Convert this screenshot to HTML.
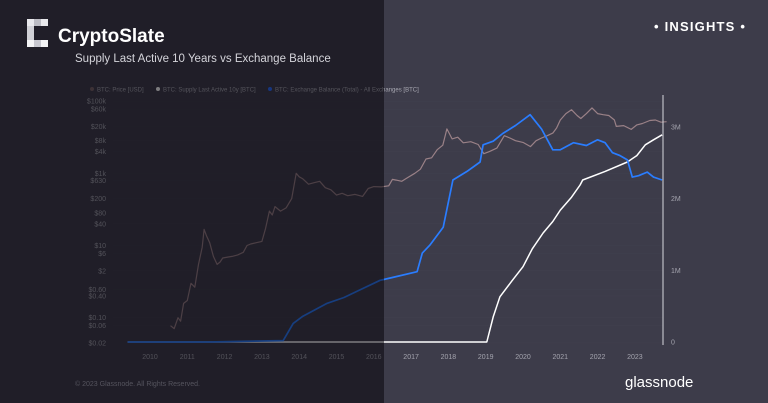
<!DOCTYPE html>
<html><head><meta charset="utf-8">
<style>
html,body{margin:0;padding:0;background:#3d3c4a;}
#wrap{position:relative;width:768px;height:403px;overflow:hidden;font-family:"Liberation Sans",sans-serif;}
svg{position:absolute;left:0;top:0;}
</style></head>
<body>
<div id="wrap">
<svg id="chart" width="768" height="403" viewBox="0 0 768 403">
  <rect x="0" y="0" width="768" height="403" fill="#3d3c4a"/>
  <g id="grid"></g>
  <g id="series"></g>
  <line x1="663" y1="95" x2="663" y2="345" stroke="#d8d8de" stroke-width="1"/>
  <g id="axes" font-size="7" fill="#a4a4ae"></g>
  <g id="legend" font-size="6" fill="#a8a8b2">
    <circle cx="92" cy="89" r="2" fill="#7a6468"/>
    <text x="97" y="91.5">BTC: Price [USD]</text>
    <circle cx="158" cy="89" r="2" fill="#ffffff"/>
    <text x="163" y="91.5">BTC: Supply Last Active 10y [BTC]</text>
    <circle cx="270" cy="89" r="2" fill="#2a6dff"/>
    <text x="275" y="91.5">BTC: Exchange Balance (Total) - All Exchanges [BTC]</text>
  </g>
  <rect x="0" y="0" width="384" height="403" fill="#05040a" opacity="0.52"/>
  <g>
    <rect x="27" y="19" width="21" height="7" fill="#e8e8ec"/>
    <rect x="27" y="26" width="7" height="14" fill="#d0d0d6"/>
    <rect x="27" y="40" width="21" height="7" fill="#f4f4f6"/>
    <rect x="34" y="19" width="7" height="7" fill="#bcbcc4"/>
    <rect x="34" y="40" width="7" height="7" fill="#c8c8d0"/>
  </g>
  <text x="58" y="42" font-size="19" font-weight="bold" fill="#ffffff">CryptoSlate</text>
  <text x="75" y="62" font-size="11.5" fill="#d4d4da">Supply Last Active 10 Years vs Exchange Balance</text>
  <text x="654" y="31" font-size="13" font-weight="bold" fill="#ffffff" letter-spacing="1.2">• INSIGHTS •</text>
  <text x="75" y="386" font-size="7" fill="#55545e">© 2023 Glassnode. All Rights Reserved.</text>
  <text x="625" y="387" font-size="15" fill="#ffffff">glassnode</text>
</svg>
</div>
<script>
const yearTicks = [2010,2011,2012,2013,2014,2015,2016,2017,2018,2019,2020,2021,2022,2023];
const priceTickValues = [100000,60000,20000,8000,4000,1000,630,200,80,40,10,6,2,0.6,0.4,0.1,0.06,0.02];
const priceTickLabels = ["$100k","$60k","$20k","$8k","$4k","$1k","$630","$200","$80","$40","$10","$6","$2","$0.60","$0.40","$0.10","$0.06","$0.02"];
const rightTickValues = [0,1,2,3];
const rightTickLabels = ["0","1M","2M","3M"];

const priceDates = [2010.55,2010.65,2010.75,2010.82,2010.9,2011.0,2011.1,2011.2,2011.3,2011.4,2011.45,2011.52,2011.6,2011.7,2011.8,2011.88,2011.95,2012.1,2012.2,2012.35,2012.5,2012.6,2012.7,2012.85,2013.0,2013.1,2013.2,2013.28,2013.35,2013.5,2013.65,2013.8,2013.92,2014.0,2014.1,2014.25,2014.4,2014.55,2014.7,2014.85,2015.0,2015.15,2015.3,2015.5,2015.7,2015.85,2016.0,2016.2,2016.4,2016.5,2016.6,2016.75,2016.9,2017.1,2017.25,2017.4,2017.55,2017.7,2017.85,2017.96,2018.1,2018.25,2018.4,2018.6,2018.8,2018.95,2019.1,2019.3,2019.5,2019.65,2019.8,2020.0,2020.2,2020.35,2020.5,2020.65,2020.8,2020.9,2021.0,2021.15,2021.3,2021.45,2021.55,2021.7,2021.85,2022.0,2022.15,2022.3,2022.45,2022.5,2022.7,2022.9,2023.05,2023.2,2023.4,2023.55,2023.7,2023.85];
const priceValues = [0.06,0.05,0.1,0.08,0.25,0.3,0.9,0.7,3,9,28,18,12,5,3,3.5,4.5,4.8,5,5.5,6.5,10,11,12,13,30,90,70,120,90,110,200,1000,800,700,500,550,600,400,350,250,280,240,260,230,380,430,420,450,680,650,600,750,1000,1300,2500,2700,4500,6000,17000,9000,10000,7000,7500,6300,3500,4000,5000,11000,9500,8000,7200,5500,8000,9500,11000,13000,18000,30000,45000,58000,40000,33000,45000,65000,45000,42000,40000,30000,20000,21000,16500,22000,24000,29000,30000,26000,27000];

const balanceDates = [2009.4,2011.6,2013.57,2013.84,2014.1,2014.75,2015.2,2015.6,2016.17,2016.5,2017.16,2017.3,2017.5,2017.86,2018.12,2018.5,2018.85,2018.93,2019.2,2019.46,2019.8,2020.19,2020.5,2020.8,2021.0,2021.35,2021.7,2022.0,2022.2,2022.4,2022.6,2022.8,2022.93,2023.1,2023.33,2023.5,2023.73];
const balanceValues = [0,0,0.02,0.26,0.36,0.54,0.62,0.72,0.86,0.9,0.98,1.24,1.35,1.6,2.26,2.38,2.51,2.75,2.8,2.91,3.02,3.17,2.97,2.68,2.68,2.78,2.74,2.82,2.78,2.64,2.6,2.54,2.30,2.32,2.37,2.3,2.26];

const supplyDates = [2009.4,2019.03,2019.2,2019.38,2019.7,2020.0,2020.25,2020.54,2020.8,2021.0,2021.3,2021.53,2021.6,2022.2,2022.8,2023.05,2023.28,2023.5,2023.73];
const supplyValues = [0,0,0.35,0.63,0.85,1.05,1.3,1.52,1.68,1.84,2.02,2.19,2.26,2.38,2.51,2.6,2.75,2.82,2.89];

const NS = "http://www.w3.org/2000/svg";
function xScale(yr){ return 150 + (yr - 2010) * 37.3; }
function yPrice(p){ return 343 - (Math.log10(p) + 1.7) * 36.1; }
function yRight(m){ return 342 - m * 71.7; }

const grid = document.getElementById('grid');
const axes = document.getElementById('axes');
const series = document.getElementById('series');

priceTickValues.forEach((v, i) => {
  const y = yPrice(v);
  const ln = document.createElementNS(NS, 'line');
  ln.setAttribute('x1', 113); ln.setAttribute('x2', 663);
  ln.setAttribute('y1', y); ln.setAttribute('y2', y);
  ln.setAttribute('stroke', '#42414f'); ln.setAttribute('stroke-width', '0.5');
  
  
  grid.appendChild(ln);
  const t = document.createElementNS(NS, 'text');
  t.setAttribute('x', 106); t.setAttribute('y', y + 2.5);
  t.setAttribute('text-anchor', 'end');
  t.textContent = priceTickLabels[i];
  
  
  axes.appendChild(t);
});
rightTickValues.forEach((v, i) => {
  const t = document.createElementNS(NS, 'text');
  t.setAttribute('x', 671); t.setAttribute('y', yRight(v) + 2.5);
  t.textContent = rightTickLabels[i];
  
  
  axes.appendChild(t);
});
yearTicks.forEach(yr => {
  const t = document.createElementNS(NS, 'text');
  t.setAttribute('x', xScale(yr)); t.setAttribute('y', 359);
  t.setAttribute('text-anchor', 'middle');
  t.textContent = yr;
  
  
  axes.appendChild(t);
});

function addLine(dates, vals, yf, color, w, name){
  const d = dates.map((x, i) => (i ? 'L' : 'M') + xScale(x).toFixed(1) + ',' + yf(vals[i]).toFixed(1)).join(' ');
  const p = document.createElementNS(NS, 'path');
  p.setAttribute('d', d);
  p.setAttribute('fill', 'none');
  p.setAttribute('stroke', color);
  p.setAttribute('stroke-width', w);
  p.setAttribute('stroke-linejoin', 'round');
  
  
  series.appendChild(p);
}
addLine(priceDates, priceValues, yPrice, '#9a8187', 1.2, 'price-line');
addLine(supplyDates, supplyValues, yRight, '#ffffff', 1.5, 'supply-10y-line');
addLine(balanceDates, balanceValues, yRight, '#2a7dff', 1.7, 'exchange-balance-line');
</script>
</body></html>
